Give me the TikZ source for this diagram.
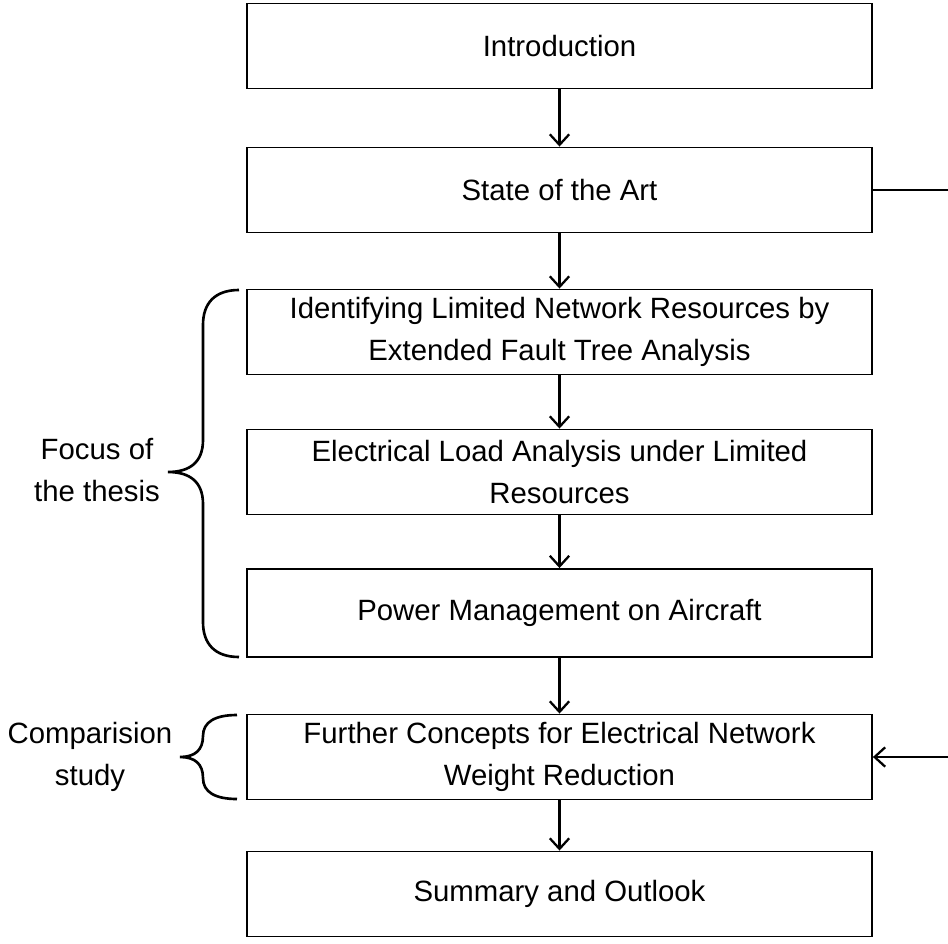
\documentclass[tikz,border=0pt]{standalone}
\usepackage{fontspec}
\setmainfont{Liberation Sans}
\usetikzlibrary{arrows.meta}
\tikzset{
  chapter/.style={draw, line width=1.1pt, minimum width=12.5cm, minimum height=1.7cm, inner sep=0pt, align=center, font=\fontsize{16.7}{23.9}\selectfont},
  flow/.style={line width=1.3pt, -{Straight Barb[length=6pt,width=11pt,line width=1.3pt]}},
  brace/.style={line width=1.5pt},
  sidelabel/.style={align=center, font=\fontsize{16.7}{23.9}\selectfont}
}
\begin{document}
\begin{tikzpicture}[x=0.02cm, y=-0.02cm]
\useasboundingbox (0,0) rectangle (948,944);
\clip (0,0) rectangle (948,944);
\node[chapter] (intro) at (559.5,46) {Introduction};
\node[chapter] (art) at (559.5,190) {State of the Art};
\node[chapter] (ident) at (559.5,332) {Identifying Limited Network Resources by\\Extended Fault Tree Analysis};
\node[chapter] (elec) at (559.5,472) {Electrical Load Analysis under Limited\\Resources};
\node[chapter, minimum height=1.76cm] (power) at (559.5,613) {Power Management on Aircraft};
\node[chapter] (further) at (559.5,757) {Further Concepts for Electrical Network\\Weight Reduction};
\node[chapter] (summary) at (559.5,894) {Summary and Outlook};
\draw[flow] (intro) -- (art);
\draw[flow] (art) -- (ident);
\draw[flow] (ident) -- (elec);
\draw[flow] (elec) -- (power);
\draw[flow] (power) -- (further);
\draw[flow] (further) -- (summary);
\coordinate (c1) at (970,190);
\coordinate (c2) at (970,757);
\draw[flow] (art.east) -- (c1) -- (c2) -- (further.east);
\draw[brace] (239,290) .. controls (215,290) and (203,303) .. (203,325) -- (203,440)
  .. controls (203,462) and (190,472) .. (168,472)
  .. controls (190,472) and (203,482) .. (203,504) -- (203,622)
  .. controls (203,644) and (215,657) .. (239,657);
\draw[brace] (237,715) .. controls (215,715) and (203,722) .. (203,736)
  .. controls (203,750) and (195,757) .. (180,757)
  .. controls (195,757) and (203,764) .. (203,778)
  .. controls (203,792) and (215,799) .. (237,799);
\node[sidelabel] (focus) at (97,470) {Focus of\\the thesis};
\node[sidelabel] (comp) at (90,757) {Comparision\\study};
\end{tikzpicture}
\end{document}
